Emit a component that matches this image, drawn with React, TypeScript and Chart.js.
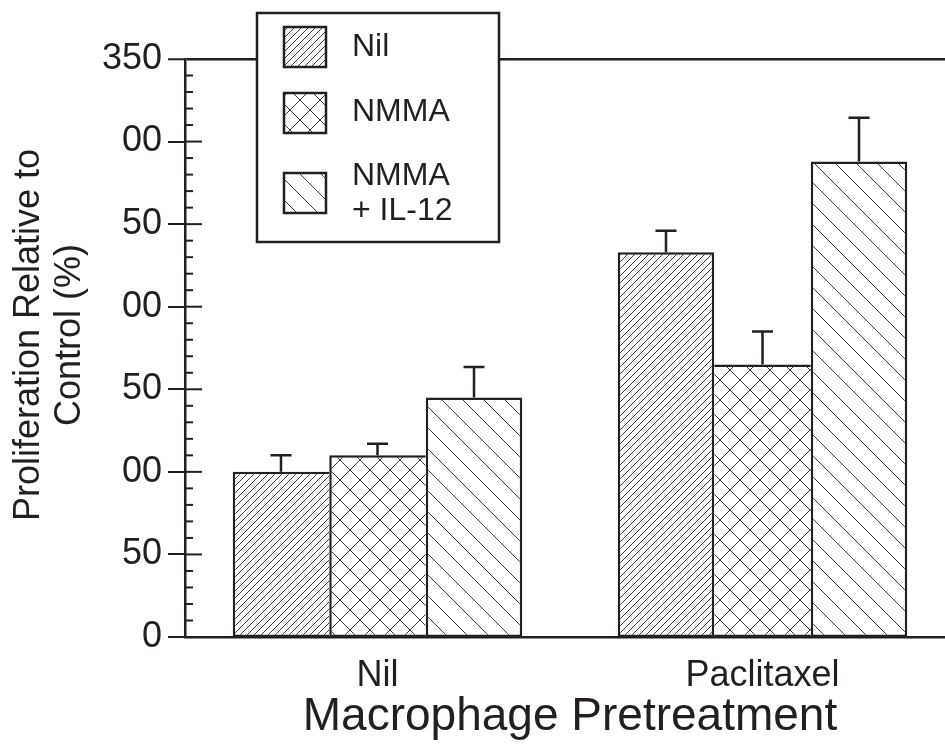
import React, { useEffect, useRef } from "react";
import { Chart, registerables } from "chart.js";

Chart.register(...registerables);

// ---------- data ----------
const categories = ["Nil", "Paclitaxel"];
const seriesNames = ["Nil", "NMMA", "NMMA + IL-12"];
const legendLines = [["Nil"], ["NMMA"], ["NMMA", "+ IL-12"]];
const nilValues = [100, 233];
const nmmaValues = [110, 165];
const il12Values = [145, 288];
const nilErrors = [10, 13];
const nmmaErrors = [7, 20];
const il12Errors = [18.5, 26.5];
const yTickValues = [0, 50, 100, 150, 200, 250, 300, 350];
const yTickLabels = ["0", "50", "00", "50", "00", "50", "00", "350"];
const yTitleLines = ["Proliferation Relative to", "Control (%)"];
const xTitle = "Macrophage Pretreatment";

const INK = "#231f20";
const FONT = "'Liberation Sans', Arial, Helvetica, sans-serif";
const BW = 2.5;

function makePattern(kind: "fwd" | "back" | "cross", size: number): CanvasPattern {
  const c = document.createElement("canvas");
  c.width = size;
  c.height = size;
  const g = c.getContext("2d")!;
  g.fillStyle = "#ffffff";
  g.fillRect(0, 0, size, size);
  g.strokeStyle = "#3a3a3a";
  g.lineWidth = 1;
  g.beginPath();
  if (kind === "fwd" || kind === "cross") {
    g.moveTo(-1, size + 1);
    g.lineTo(size + 1, -1);
    g.moveTo(-1, 1);
    g.lineTo(1, -1);
    g.moveTo(size - 1, size + 1);
    g.lineTo(size + 1, size - 1);
  }
  if (kind === "back" || kind === "cross") {
    g.moveTo(-1, -1);
    g.lineTo(size + 1, size + 1);
    g.moveTo(size - 1, -1);
    g.lineTo(size + 1, 1);
    g.moveTo(-1, size - 1);
    g.lineTo(1, size + 1);
  }
  g.stroke();
  return g.createPattern(c, "repeat")!;
}

// shared edges between adjacent bars are drawn once, by the taller bar
function borderFor(c: any) {
  const ds = c.chart.data.datasets;
  const di = c.datasetIndex;
  const i = c.dataIndex;
  const v = ds[di].data[i];
  const prev = di > 0 ? ds[di - 1].data[i] : null;
  const next = di < ds.length - 1 ? ds[di + 1].data[i] : null;
  return {
    top: BW,
    bottom: BW,
    left: prev !== null && prev >= v ? 0 : BW,
    right: next !== null && next > v ? 0 : BW,
  };
}

const extrasPlugin = {
  id: "extras",
  afterDatasetsDraw(chart: any) {
    const ctx = chart.ctx as CanvasRenderingContext2D;
    const y = chart.scales.y;
    ctx.save();
    ctx.strokeStyle = INK;
    ctx.lineWidth = BW;
    chart.data.datasets.forEach((ds: any, di: number) => {
      const meta = chart.getDatasetMeta(di);
      meta.data.forEach((bar: any, i: number) => {
        const v = ds.data[i];
        const e = ds.errors[i];
        const yBase = y.getPixelForValue(v);
        const yTop = y.getPixelForValue(v + e);
        ctx.beginPath();
        ctx.moveTo(bar.x, yBase);
        ctx.lineTo(bar.x, yTop);
        ctx.moveTo(bar.x - 10.5, yTop);
        ctx.lineTo(bar.x + 10.5, yTop);
        ctx.stroke();
      });
    });
    const left = chart.chartArea.left;
    for (let v = 10; v <= 340; v += 10) {
      const py = y.getPixelForValue(v);
      const major = v % 50 === 0;
      ctx.lineWidth = 2;
      ctx.beginPath();
      ctx.moveTo(left, py);
      ctx.lineTo(left + (major ? 17 : 8), py);
      ctx.stroke();
    }
    ctx.restore();
  },
  afterDraw(chart: any) {
    const ctx = chart.ctx as CanvasRenderingContext2D;
    ctx.save();
    ctx.fillStyle = INK;
    ctx.font = `36px ${FONT}`;
    ctx.textAlign = "center";
    ctx.textBaseline = "middle";
    ctx.translate(29, 335);
    ctx.rotate(-Math.PI / 2);
    yTitleLines.forEach((t, i) => ctx.fillText(t, 0, i * 41));
    ctx.restore();

    ctx.save();
    const bx = 257, by = 13, bw = 242, bh = 229;
    ctx.fillStyle = "#ffffff";
    ctx.fillRect(bx, by, bw, bh);
    ctx.strokeStyle = INK;
    ctx.lineWidth = BW;
    ctx.strokeRect(bx, by, bw, bh);
    const swTops = [27, 93, 173];
    const textCenters = [[47], [112], [176, 211]];
    chart.data.datasets.forEach((ds: any, i: number) => {
      const sx = 284, sy = swTops[i], sw = 42, sh = 40;
      ctx.fillStyle = ds.backgroundColor;
      ctx.fillRect(sx, sy, sw, sh);
      ctx.strokeStyle = INK;
      ctx.lineWidth = BW;
      ctx.strokeRect(sx, sy, sw, sh);
      ctx.fillStyle = INK;
      ctx.font = `32px ${FONT}`;
      ctx.textAlign = "left";
      ctx.textBaseline = "middle";
      legendLines[i].forEach((t, k) => ctx.fillText(t, 352, textCenters[i][k]));
    });
    ctx.restore();
  },
};

export default function App() {
  const ref = useRef<HTMLCanvasElement | null>(null);
  useEffect(() => {
    if (!ref.current) return;
    const nilPat = makePattern("fwd", 7);
    const nmmaPat = makePattern("cross", 20);
    const il12Pat = makePattern("back", 21);
    const common = {
      borderColor: INK,
      borderWidth: borderFor,
      borderSkipped: false,
      barPercentage: 1,
      categoryPercentage: 0.752,
    };
    const chart = new Chart(ref.current, {
      type: "bar",
      data: {
        labels: categories,
        datasets: [
          { ...common, label: seriesNames[0], data: nilValues, errors: nilErrors, backgroundColor: nilPat } as any,
          { ...common, label: seriesNames[1], data: nmmaValues, errors: nmmaErrors, backgroundColor: nmmaPat } as any,
          { ...common, label: seriesNames[2], data: il12Values, errors: il12Errors, backgroundColor: il12Pat } as any,
        ],
      },
      options: {
        responsive: false,
        devicePixelRatio: 1,
        animation: false,
        layout: { padding: { top: 59, right: 5, left: 0, bottom: 0 } },
        plugins: { legend: { display: false }, tooltip: { enabled: false }, title: { display: false } },
        scales: {
          x: {
            grid: { display: false, drawTicks: false, tickLength: 0 },
            border: { display: true, color: INK, width: BW },
            ticks: { color: INK, font: { family: FONT, size: 36 }, padding: 17 },
            title: {
              display: true,
              text: xTitle,
              color: INK,
              font: { family: FONT, size: 46 },
              padding: { top: 0, bottom: 3 },
            },
            afterFit: (s: any) => { s.height = 111; },
          },
          y: {
            min: 0,
            max: 350,
            afterBuildTicks: (s: any) => { s.ticks = yTickValues.map((v) => ({ value: v })); },
            ticks: {
              color: INK,
              font: { family: FONT, size: 36 },
              padding: 6,
              autoSkip: false,
              callback: (v: any) => yTickLabels[yTickValues.indexOf(Number(v))],
            },
            grid: {
              drawTicks: true,
              tickLength: 17,
              tickColor: INK,
              tickWidth: 2,
              color: (c: any) => (c.tick && c.tick.value === 350 ? INK : "rgba(0,0,0,0)"),
              lineWidth: (c: any) => (c.tick && c.tick.value === 350 ? BW : 0),
            },
            border: { display: true, color: INK, width: BW },
            afterFit: (s: any) => { s.width = 185; },
          },
        },
      },
      plugins: [extrasPlugin],
    } as any);
    return () => chart.destroy();
  }, []);
  return (
    <div style={{ position: "fixed", left: 0, top: 0, width: 945, height: 748, overflow: "hidden", background: "#fff" }}>
      <canvas ref={ref} width={960} height={748} style={{ display: "block", width: 960, height: 748 }} />
    </div>
  );
}
